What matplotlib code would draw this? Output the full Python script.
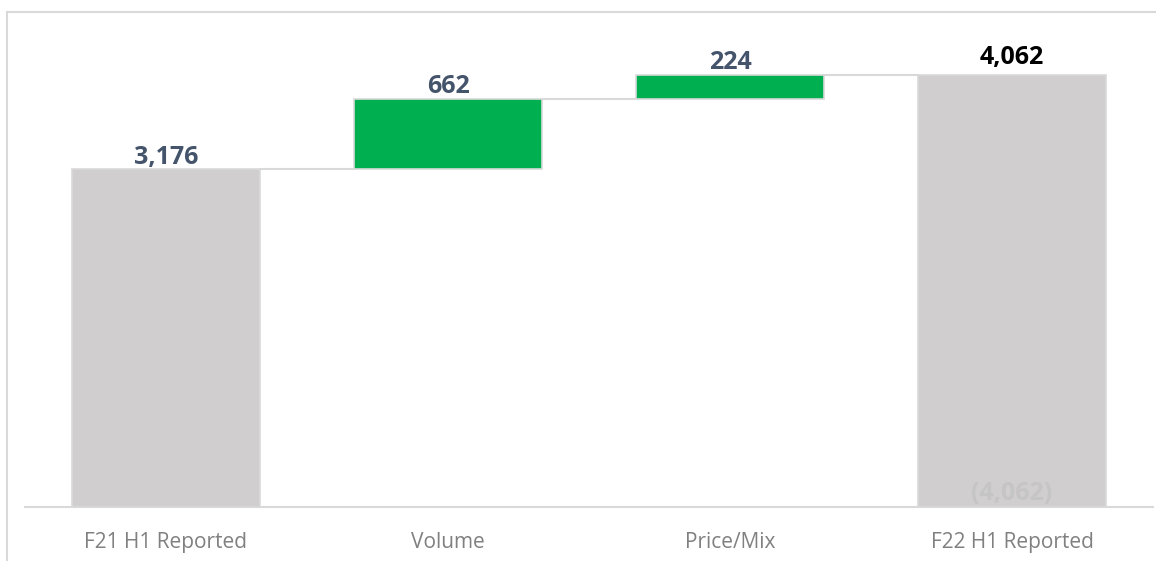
import matplotlib
matplotlib.use('Agg')
import matplotlib.pyplot as plt
from matplotlib.lines import Line2D
from matplotlib.transforms import offset_copy

plt.rcParams['font.family'] = ['Open Sans', 'DejaVu Sans']

categories = ["F21 H1 Reported", "Volume", "Price/Mix", "F22 H1 Reported"]
start_total = 3176
changes = [662, 224]
end_total = 4062
value_labels = ["3,176", "662", "224", "4,062"]

gray = "#d0cece"
green = "#00b050"
edge = "#d9d9d9"
slate = "#44546a"

W, H = 1156, 561
fig = plt.figure(figsize=(W / 100, H / 100), dpi=100)
# axes: baseline at y=507px, 0..4500 maps to 507..28.4px
ymax = 4500
top_px = 507 - ymax * (432 / 4062)
ax = fig.add_axes([25 / W, (H - 507) / H, (1153 - 25) / W, (507 - top_px) / H])

# bar geometry
bottoms = [0]
heights = [start_total]
running = start_total
for c in changes:
    bottoms.append(running)
    heights.append(c)
    running += c
bottoms.append(0)
heights.append(end_total)
colors = [gray, green, green, gray]

x = list(range(len(categories)))
width = 0.667
ax.bar(x, heights, bottom=bottoms, width=width, color=colors,
       edgecolor=edge, linewidth=1.2, zorder=3)

# connectors
tops = [b + h for b, h in zip(bottoms, heights)]
for i in range(len(x) - 1):
    ax.plot([x[i] + width / 2, x[i + 1] - width / 2], [tops[i], tops[i]],
            color=edge, lw=1.5, zorder=2)

# value labels
for i, lab in enumerate(value_labels):
    last = i == len(x) - 1
    col = "black" if last else slate
    tr = offset_copy(ax.transData, fig=fig, x=0, y=(17 if last else 12),
                     units='dots')
    ax.text(x[i], tops[i], lab, ha='center', va='center', transform=tr,
            fontsize=18, fontweight='bold', color=col, zorder=4)

# faint label inside last bar
tr = offset_copy(ax.transData, fig=fig, x=0, y=13, units='dots')
ax.text(x[-1], 0, "(" + value_labels[-1] + ")", ha='center', va='center',
        transform=tr, fontsize=18, fontweight='bold', color="#c6c5c5",
        zorder=4)

ax.set_xlim(-0.5, 3.5)
ax.set_ylim(0, ymax)
ax.set_xticks(x)
ax.set_xticklabels(categories, fontsize=15, color="#808080")
ax.tick_params(axis='x', length=0, pad=18)
ax.set_yticks([])
for s in ['top', 'right', 'left']:
    ax.spines[s].set_visible(False)
ax.spines['bottom'].set_color(edge)
ax.spines['bottom'].set_linewidth(1.5)

# outer frame lines (left and top)
fig.add_artist(Line2D([7 / W, 7 / W], [0, 1 - 12 / H], color=edge, lw=1.5))
fig.add_artist(Line2D([7 / W, 1], [1 - 12 / H, 1 - 12 / H], color=edge, lw=1.5))

fig.savefig("out.png", dpi=100)
plt.close(fig)
